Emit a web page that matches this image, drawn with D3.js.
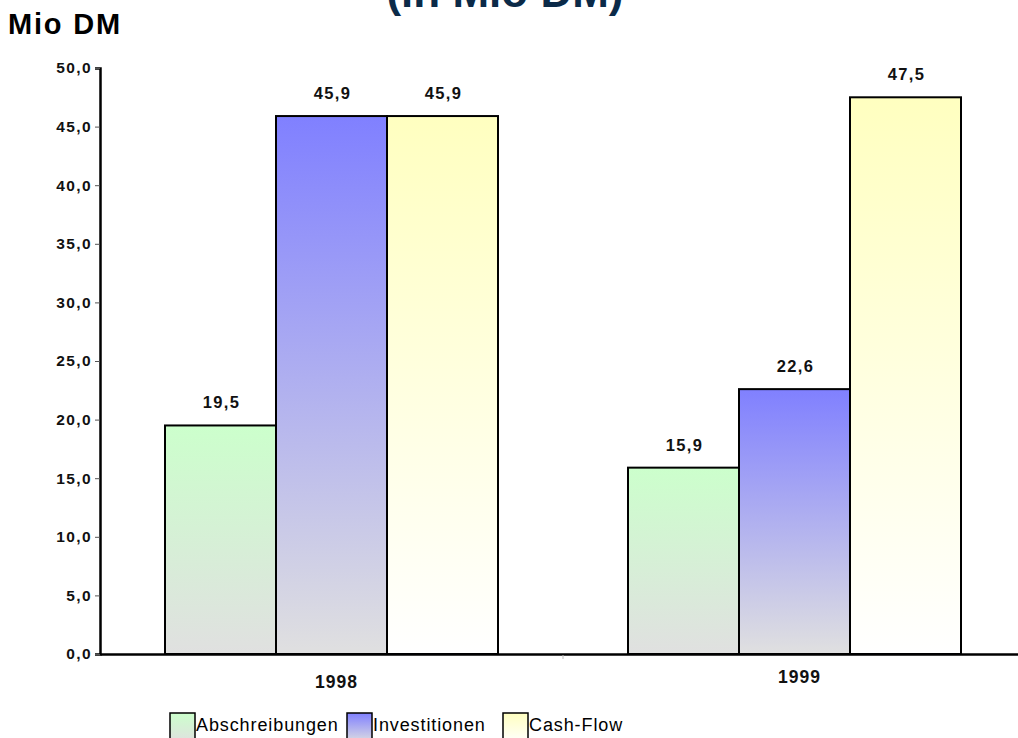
<!DOCTYPE html>
<html>
<head>
<meta charset="utf-8">
<script src="https://cdnjs.cloudflare.com/ajax/libs/d3/7.8.5/d3.min.js"></script>
<style>
	body { margin: 0; background: #ffffff; }
	svg { display: block; }
	text { font-family: "Liberation Sans", Arial, Helvetica, sans-serif; }
</style>
</head>
<body>
<svg id="chart" width="1018" height="738"></svg>
<script>

var years = ["1998", "1999"];
var series = ["Abschreibungen", "Investitionen", "Cash-Flow"];
var abschreibungen = [19.5, 15.9];
var investitionen = [45.9, 22.6];
var cashFlow = [45.9, 47.5];
var yTicks = [0, 5, 10, 15, 20, 25, 30, 35, 40, 45, 50];

var values = [abschreibungen, investitionen, cashFlow];

// top / bottom gradient colours per series
var gradColors = [
	["#ccffcc", "#e0e0e0"],
	["#8080ff", "#e0e0e0"],
	["#ffffc0", "#ffffff"]
];

var svg = d3.select("#chart");
var defs = svg.append("defs");

for (var i = 0; i < series.length; i++)
{
	var grad = defs.append("linearGradient")
	.attr("id", "grad" + i)
	.attr("x1", 0).attr("y1", 0)
	.attr("x2", 0).attr("y2", 1);

	grad.append("stop").attr("offset", "0%").attr("stop-color", gradColors[i][0]);
	grad.append("stop").attr("offset", "100%").attr("stop-color", gradColors[i][1]);
}

var fmt = function(v) { return d3.format(".1f")(v).replace(".", ","); }

var x0 = d3.scaleBand()
.domain(years)
.range([100, 1026]);

var x1 = d3.scaleBand()
.domain(series)
.range([65, x0.bandwidth() - 65]);

var y = d3.scaleLinear()
.domain([0, 50])
.range([654, 68]);

// title, cut off at the top like in the original
svg.append("text")
.attr("x", 505)
.attr("y", 7)
.attr("text-anchor", "middle")
.attr("font-size", 44)
.attr("font-weight", "bold")
.attr("fill", "#0b2a48")
.text("(in Mio DM)");

svg.append("text")
.attr("x", 8)
.attr("y", 34)
.attr("font-size", 29)
.attr("font-weight", "bold")
.attr("letter-spacing", 1.8)
.attr("fill", "#000")
.text("Mio DM");

// y axis
var yAxis = svg.append("g")
.attr("transform", "translate(100,0)")
.call(d3.axisLeft(y).tickValues(yTicks).tickSize(5).tickFormat(fmt));

yAxis.select(".domain").attr("stroke", "#000").attr("stroke-width", 2.5);
yAxis.selectAll(".tick line").attr("stroke", "#555");
yAxis.selectAll(".tick text")
.attr("x", -8)
.attr("font-size", 15.5)
.attr("font-weight", "bold")
.attr("font-family", "Liberation Sans, Arial, sans-serif")
.attr("letter-spacing", 1.4)
.attr("fill", "#111");

// bars
for (var s = 0; s < series.length; s++)
{
	svg.append("g")
	.selectAll("rect")
	.data(years)
	.join("rect")
	.attr("x", function(d) { return x0(d) + x1(series[s]); })
	.attr("y", function(d, j) { return y(values[s][j]); })
	.attr("width", x1.bandwidth())
	.attr("height", function(d, j) { return y(0) - y(values[s][j]); })
	.attr("fill", "url(#grad" + s + ")")
	.attr("stroke", "#000")
	.attr("stroke-width", 2);

	svg.append("g")
	.selectAll("text")
	.data(years)
	.join("text")
	.attr("x", function(d) { return x0(d) + x1(series[s]) + x1.bandwidth() / 2 + 1; })
	.attr("y", function(d, j) { return y(values[s][j]) - 17; })
	.attr("text-anchor", "middle")
	.attr("font-size", 16.5)
	.attr("font-weight", "bold")
	.attr("letter-spacing", 1.4)
	.attr("fill", "#111")
	.text(function(d, j) { return fmt(values[s][j]); });
}

// x axis
var xAxis = svg.append("g")
.attr("transform", "translate(0,654)")
.call(d3.axisBottom(x0).tickSize(0));

xAxis.select(".domain").attr("stroke", "#000").attr("stroke-width", 2.5);
xAxis.selectAll(".tick text")
.attr("dy", null)
.attr("dx", 5)
.attr("y", function(d) { return d == "1998" ? 34 : 29; })
.attr("font-size", 17.5)
.attr("font-weight", "bold")
.attr("font-family", "Liberation Sans, Arial, sans-serif")
.attr("letter-spacing", 1)
.attr("fill", "#111");

// small separator tick between the categories
svg.append("line")
.attr("x1", x0("1999")).attr("x2", x0("1999"))
.attr("y1", 655).attr("y2", 659)
.attr("stroke", "#bbb");

// legend
var legendX = [170, 347, 503];
var legend = svg.append("g");

for (var k = 0; k < series.length; k++)
{
	legend.append("rect")
	.attr("x", legendX[k])
	.attr("y", 713)
	.attr("width", 25)
	.attr("height", 30)
	.attr("fill", "url(#grad" + k + ")")
	.attr("stroke", "#000")
	.attr("stroke-width", 1.5);

	legend.append("text")
	.attr("x", legendX[k] + 26)
	.attr("y", 731)
	.attr("font-size", 18)
	.attr("letter-spacing", 0.9)
	.attr("fill", "#000")
	.text(series[k]);
}

</script>
</body>
</html>
